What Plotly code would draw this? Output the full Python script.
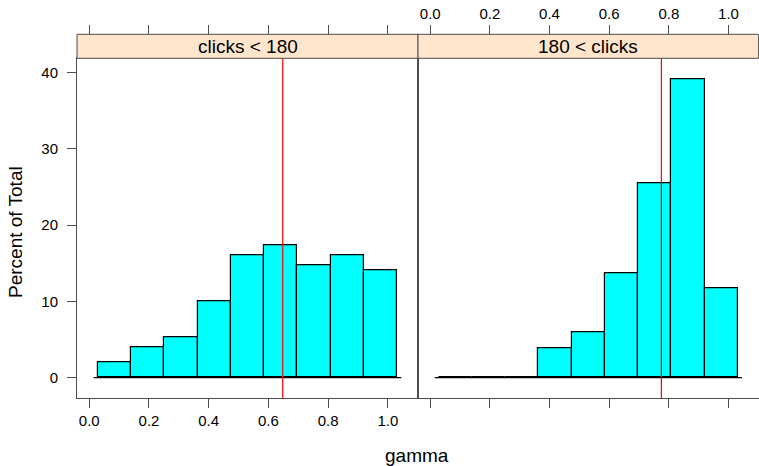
import plotly.graph_objects as go

# Histogram of gamma, conditioned on clicks (percent of total per panel)
breaks = [0.029, 0.140, 0.251, 0.363, 0.474, 0.586, 0.697, 0.808, 0.920, 1.031]
pct_low = [2.02, 4.03, 5.34, 10.06, 16.09, 17.40, 14.74, 16.09, 14.04]
pct_high = [0.0, 0.0, 0.0, 3.9, 5.9, 13.7, 25.5, 39.2, 11.7]
mean_low = 0.648
mean_high = 0.775
strip_labels = ["clicks < 180", "180 < clicks"]
x_ticks = [0.0, 0.2, 0.4, 0.6, 0.8, 1.0]
x_tick_text = ["0.0", "0.2", "0.4", "0.6", "0.8", "1.0"]
y_ticks = [0, 10, 20, 30, 40]

W, H = 759, 466
FONT = "Liberation Sans, Arial, Helvetica, sans-serif"
AXCOL = "#4d4d4d"
XR = [-0.041, 1.101]
YR = [-2.66, 41.89]

# panel geometry in pixels
left_px = (77, 418)
right_px = (418, 758.6)
panel_top, panel_bot = 58.3, 398.0
strip_top = 34.3

def px_x(v):
    return v / W

def px_y(v):
    return (H - v) / H

centers = [(a + b) / 2 for a, b in zip(breaks[:-1], breaks[1:])]
widths = [b - a for a, b in zip(breaks[:-1], breaks[1:])]
pad = 0.014
base_x = [breaks[0] - pad, breaks[-1] + pad]

fig = go.Figure()

for xa, ya, vals in (("x", "y", pct_low), ("x2", "y2", pct_high)):
    fig.add_trace(go.Scatter(
        x=base_x, y=[0, 0], mode="lines", xaxis=xa, yaxis=ya,
        line=dict(color="black", width=1.2), showlegend=False, hoverinfo="skip"))
    fig.add_trace(go.Bar(
        x=centers, y=vals, width=widths, xaxis=xa, yaxis=ya,
        marker=dict(color="#00FFFF", line=dict(color="black", width=1.2)),
        showlegend=False))

# empty traces so the extra tick-only axes get drawn
fig.add_trace(go.Scatter(x=[], y=[], xaxis="x3", yaxis="y", showlegend=False, hoverinfo="skip"))
fig.add_trace(go.Scatter(x=[], y=[], xaxis="x4", yaxis="y2", showlegend=False, hoverinfo="skip"))

common_x = dict(range=XR, tickvals=x_ticks, ticktext=x_tick_text, ticks="outside",
                ticklen=9, tickwidth=1, tickcolor=AXCOL, showgrid=False, zeroline=False,
                tickfont=dict(family=FONT, size=15, color="black"))

ydom = [px_y(panel_bot), px_y(panel_top)]

fig.update_layout(
    width=W, height=H,
    margin=dict(l=0, r=0, t=0, b=0),
    paper_bgcolor="white", plot_bgcolor="white",
    bargap=0,
    font=dict(family=FONT, color="black"),
    # bottom axes (labels on the left panel only)
    xaxis=dict(domain=[px_x(left_px[0]), px_x(left_px[1])], anchor="y", side="bottom",
               showline=True, mirror=True, linecolor=AXCOL, linewidth=1,
               **common_x),
    xaxis2=dict(domain=[px_x(right_px[0]), px_x(right_px[1])], anchor="y2", side="bottom",
                showline=True, mirror=True, linecolor=AXCOL, linewidth=1,
                showticklabels=False, **common_x),
    # top axes above the strips (labels on the right panel only)
    xaxis3=dict(overlaying="x", anchor="free", position=px_y(strip_top), side="top",
                showticklabels=False, showline=False, **common_x),
    xaxis4=dict(overlaying="x2", anchor="free", position=px_y(strip_top), side="top",
                showline=False, **common_x),
    yaxis=dict(domain=ydom, anchor="x", range=YR, tickvals=y_ticks, ticks="outside",
               ticklen=9, tickwidth=1, tickcolor=AXCOL, showgrid=False, zeroline=False,
               showline=True, mirror=True, linecolor=AXCOL, linewidth=1,
               ticklabelstandoff=6,
               tickfont=dict(family=FONT, size=15, color="black")),
    yaxis2=dict(domain=ydom, anchor="x2", range=YR, matches="y", showticklabels=False,
                ticks="", showgrid=False, zeroline=False,
                showline=True, mirror=True, linecolor=AXCOL, linewidth=1),
)

# mean reference lines
for xa, m in (("x", mean_low), ("x2", mean_high)):
    fig.add_shape(type="line", xref=xa, yref=("y domain" if xa == "x" else "y2 domain"),
                  x0=m, x1=m, y0=0, y1=1, line=dict(color="#FF0000", width=1.2))

# strips
for (x0, x1), lab in zip((left_px, right_px), strip_labels):
    fig.add_shape(type="rect", xref="paper", yref="paper",
                  x0=px_x(x0), x1=px_x(x1), y0=px_y(panel_top), y1=px_y(strip_top),
                  fillcolor="#FFE5CC", line=dict(color=AXCOL, width=1))
    fig.add_annotation(text=lab, xref="paper", yref="paper",
                       x=px_x((x0 + x1) / 2), y=px_y((strip_top + panel_top) / 2),
                       showarrow=False, xanchor="center", yanchor="middle",
                       font=dict(family=FONT, size=19, color="black"))

# axis titles
fig.add_annotation(text="gamma", xref="paper", yref="paper", x=px_x(417), y=px_y(455),
                   showarrow=False, xanchor="center", yanchor="middle",
                   font=dict(family=FONT, size=19, color="black"))
fig.add_annotation(text="Percent of Total", xref="paper", yref="paper", x=px_x(16), y=px_y(232),
                   showarrow=False, xanchor="center", yanchor="middle", textangle=-90,
                   font=dict(family=FONT, size=19, color="black"))

fig.write_html("out.html")
